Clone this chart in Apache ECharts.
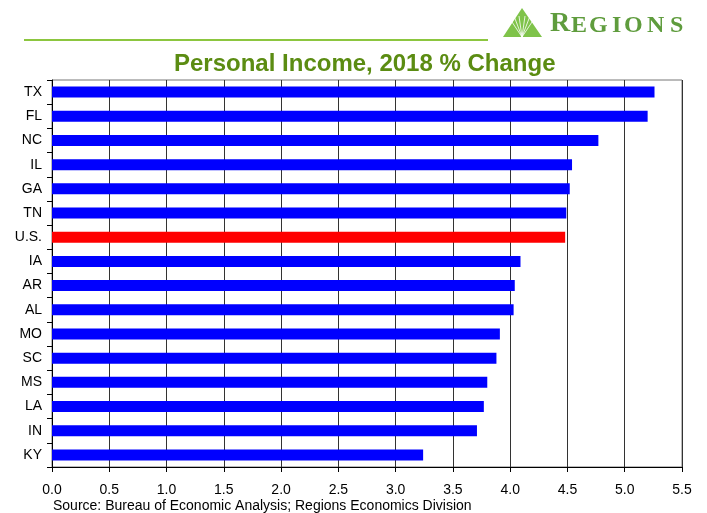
<!DOCTYPE html>
<html>
<head>
<meta charset="utf-8">
<script src="https://cdn.jsdelivr.net/npm/echarts@6/dist/echarts.min.js"></script>
<style>
html, body { margin: 0; padding: 0; background: #fff; }
#main { width: 707px; height: 513px; }
</style>
</head>
<body>
<div id="main"></div>
<script>
// states, top to bottom
var states = ['TX', 'FL', 'NC', 'IL', 'GA', 'TN', 'U.S.', 'IA', 'AR', 'AL', 'MO', 'SC', 'MS', 'LA', 'IN', 'KY'];
// personal income, 2018 % change
var incomeChange = [5.26, 5.20, 4.77, 4.54, 4.52, 4.49, 4.48, 4.09, 4.04, 4.03, 3.91, 3.88, 3.80, 3.77, 3.71, 3.24];
var xTicks = [0, 0.5, 1, 1.5, 2, 2.5, 3, 3.5, 4, 4.5, 5, 5.5];

var logoGreen = '#5f9c3d';
var letters = [['E', 571], ['G', 589], ['I', 612], ['O', 624], ['N', 647], ['S', 670]];

var chart = echarts.init(document.getElementById('main'));

var graphics = [
  { type: 'line', shape: { x1: 24, y1: 40, x2: 488, y2: 40 }, style: { stroke: '#8cc63f', lineWidth: 2 } },
  { type: 'polygon', shape: { points: [[503, 37], [522, 8], [542, 37]] }, style: { fill: '#7fc34a' } },
  { type: 'text', left: 53, top: 499, style: { text: 'Source: Bureau of Economic Analysis; Regions Economics Division', font: '14px "Liberation Sans", Arial, sans-serif', fill: '#000' } },
  { type: 'text', x: 550, y: 38, style: { text: 'R', font: 'bold 28px "Liberation Serif", serif', fill: logoGreen, textVerticalAlign: 'bottom' } }
];
// light rays inside the triangle
[-14, -8, -3, 3, 8, 14].forEach(function (dx) {
  graphics.push({ type: 'line', shape: { x1: 522, y1: 37, x2: 522 + dx, y2: 16 }, style: { stroke: '#fff', lineWidth: 1, opacity: 0.8 } });
});
letters.forEach(function (l) {
  graphics.push({ type: 'text', x: l[1], y: 38, style: { text: l[0], font: 'bold 24px "Liberation Serif", serif', fill: logoGreen, textVerticalAlign: 'bottom' } });
});

chart.setOption({
  animation: false,
  title: {
    text: 'Personal Income, 2018 % Change',
    left: 169,
    top: 47,
    textStyle: { color: '#5b8c12', fontSize: 24, fontWeight: 'bold', fontFamily: '"Liberation Sans", Arial, sans-serif' }
  },
  grid: { left: 52, right: 25, top: 80, bottom: 46, show: true, borderColor: '#777', borderWidth: 1 },
  xAxis: {
    type: 'value',
    min: 0,
    max: 5.5,
    interval: 0.5,
    axisLine: { show: true, lineStyle: { color: '#000' } },
    axisTick: { show: true, length: 5, lineStyle: { color: '#000' } },
    axisLabel: {
      color: '#000', fontSize: 14, margin: 16,
      fontFamily: '"Liberation Sans", Arial, sans-serif',
      formatter: function (v) { return v.toFixed(1); }
    },
    splitLine: { show: true, lineStyle: { color: '#333', width: 1 } }
  },
  yAxis: {
    type: 'category',
    data: states,
    inverse: true,
    axisLine: { show: true, lineStyle: { color: '#000' } },
    axisTick: { show: true, length: 5, lineStyle: { color: '#000' } },
    axisLabel: { color: '#000', fontSize: 14, margin: 10, fontFamily: '"Liberation Sans", Arial, sans-serif' }
  },
  series: [{
    type: 'bar',
    barWidth: 11,
    data: incomeChange.map(function (v, i) {
      return { value: v, itemStyle: { color: states[i] === 'U.S.' ? '#ff0000' : '#0000ff' } };
    })
  }],
  graphic: graphics
});
</script>
</body>
</html>
